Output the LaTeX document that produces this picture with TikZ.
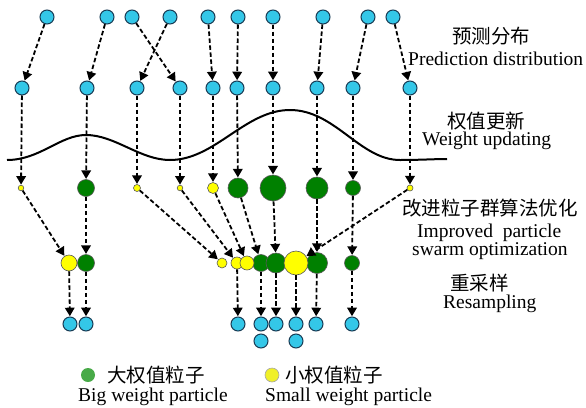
\documentclass[tikz,border=0pt]{standalone}
\usepackage{fontspec}
\setmainfont{Liberation Serif}
\newfontfamily\cjk{Noto Sans CJK SC}
\usetikzlibrary{arrows.meta}
\definecolor{pcyan}{RGB}{52,199,232}
\definecolor{pedge}{RGB}{25,60,85}
\definecolor{pgreen}{RGB}{0,128,0}
\definecolor{pyellow}{RGB}{255,255,0}
\definecolor{lgreen}{RGB}{72,170,72}
\definecolor{lyellow}{RGB}{240,240,40}
\begin{document}
\begin{tikzpicture}[x=1pt,y=-1pt,
  cp/.style={circle,draw=pedge,fill=pcyan,line width=1pt,inner sep=0pt,minimum size=14pt},
  gp/.style={circle,draw=black!65,fill=pgreen,line width=0.6pt,inner sep=0pt,minimum size=2*#1 pt},
  yp/.style={circle,draw=black!65,fill=pyellow,line width=0.6pt,inner sep=0pt,minimum size=2*#1 pt},
  arr/.style={dash pattern=on 4.5pt off 2.5pt,line width=1.8pt,-{Triangle[length=8.5pt,width=9.5pt]},shorten >=0.3pt},
  lab/.style={anchor=base west,inner sep=0pt,font=\fontsize{19.5}{22}\selectfont},
  clab/.style={anchor=base west,inner sep=0pt,font=\fontsize{19.5}{22}\selectfont\cjk}]
\useasboundingbox (0,0) rectangle (586,407);
% weight curve
\draw[line width=2pt] (7,160) .. controls (40,160) and (60,135) .. (86,135)
  .. controls (115,135) and (140,160) .. (170,160)
  .. controls (215,160) and (245,110) .. (290,110)
  .. controls (335,110) and (360,160) .. (400,160)
  .. controls (420,160) and (435,159) .. (447,159);
% row 1
\foreach \n/\x in {1/47,2/107,3/132,4/170,5/208,6/238,7/273,8/323,9/368,10/393}
  \node[cp] (t\n) at (\x,17) {};
% row 2
\foreach \n/\x in {1/22,2/87,3/137,4/180,5/213,6/237,7/273,8/317,9/353,10/410}
  \node[cp] (s\n) at (\x,88) {};
% row 3
\node[yp=2.8] (w1) at (21,188) {};
\node[gp=8.5] (w2) at (86,188) {};
\node[yp=3.5] (w3) at (137,188) {};
\node[yp=2.8] (w4) at (180,188) {};
\node[yp=5.5] (w5) at (213,188) {};
\node[gp=10] (w6) at (238,188) {};
\node[gp=13] (w7) at (273,188) {};
\node[gp=11] (w8) at (317,188) {};
\node[gp=7.5] (w9) at (353,188) {};
\node[yp=3] (w10) at (410,188) {};
% row 4
\node[yp=8] (o1) at (69,263) {};
\node[gp=8.5] (o2) at (86,263) {};
\node[gp=8.5] (o6) at (261,263) {};
\node[gp=10] (o7) at (276,263) {};
\node[gp=10.5] (o9) at (317,263) {};
\node[yp=5] (o3) at (222,263) {};
\node[yp=6] (o4) at (237,263) {};
\node[yp=7] (o5) at (247,263) {};
\node[yp=12] (o8) at (296,263) {};
\node[gp=7.5] (o10) at (352,263) {};
% row 5
\foreach \n/\x in {1/70,2/86,3/238,4/261,5/276,6/296,7/316,8/352}
  \node[cp] (r\n) at (\x,324) {};
\node[cp] (r9) at (261,341) {};
\node[cp] (r10) at (296,341) {};
% connectors
\draw[arr] (t1) -- (s1);
\draw[arr] (t2) -- (s2);
\draw[arr] (t3) -- (s4);
\draw[arr] (t4) -- (s3);
\foreach \n in {5,...,10} \draw[arr] (t\n) -- (s\n);
\foreach \n in {1,...,10} \draw[arr] (s\n) -- (w\n);
\foreach \a/\b in {w1/o1,w2/o2,w3/o3,w4/o4,w5/o5,w6/o6,w7/o7,w10/o8,w8/o9,w9/o10}
  \draw[arr] (\a) -- (\b);
\foreach \a/\b in {o1/r1,o2/r2,o4/r3,o6/r4,o7/r5,o8/r6,o9/r7,o10/r8}
  \draw[arr] (\a) -- (\b);
% labels
\node[clab] (l1c) at (452,43) {预测分布};
\node[lab] (l1e) at (408,65) {Prediction distribution};
\node[clab] (l2c) at (447,128) {权值更新};
\node[lab] (l2e) at (422,145) {Weight updating};
\node[clab] (l3c) at (402,215) {改进粒子群算法优化};
\node[lab] (l3e) at (417,237) {Improved\ \ particle};
\node[lab] (l3f) at (412,255) {swarm optimization};
\node[clab] (l4c) at (450,290) {重采样};
\node[lab] (l4e) at (443,308) {Resampling};
% legend
\node[circle,fill=lgreen,inner sep=0pt,minimum size=14pt] (lg) at (88,375) {};
\node[circle,fill=lyellow,draw=black!35,line width=0.6pt,inner sep=0pt,minimum size=14pt] (ly) at (272,375) {};
\node[clab] (lgc) at (107,382) {大权值粒子};
\node[lab] (lge) at (78,401) {Big weight particle};
\node[clab] (lyc) at (285,382) {小权值粒子};
\node[lab] (lye) at (265,401) {Small weight particle};
\end{tikzpicture}
\end{document}
